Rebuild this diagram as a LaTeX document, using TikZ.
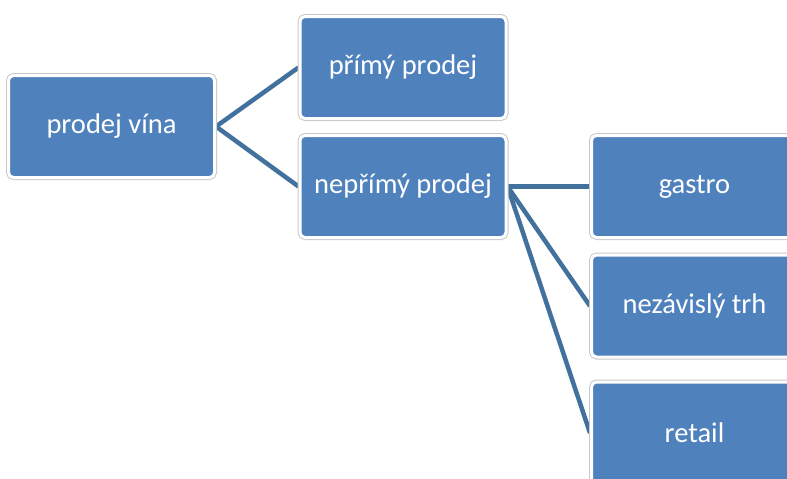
\documentclass[tikz,border=0pt]{standalone}
\usepackage{fontspec}
\setmainfont{Carlito}
\usetikzlibrary{backgrounds}
\definecolor{boxblue}{HTML}{4F81BD}
\definecolor{linkblue}{HTML}{41719C}
\definecolor{rimgray}{HTML}{C8C8C8}
\tikzset{
  card/.style={rectangle, rounded corners=5pt, fill=boxblue, draw=white,
    line width=3pt, minimum width=206pt, minimum height=102pt,
    inner sep=0pt, text=white, font=\fontsize{28.5}{34}\selectfont,
    preaction={draw=rimgray, line width=5pt}},
  link/.style={draw=linkblue, line width=4.5pt}
}
\begin{document}
\begin{tikzpicture}[x=1pt, y=-1pt]
  \useasboundingbox (0,0) rectangle (787,479);
  % tree boxes
  \node[card] (vino)    at (111.5,126.5) {prodej vína};
  \node[card] (primy)   at (403,67.5)    {přímý prodej};
  \node[card] (neprimy) at (403,186.5)   {nepřímý prodej};
  \node[card] (gastro)  at (694.5,186.5) {gastro};
  \node[card] (trh)     at (694.5,306)   {nezávislý trh};
  \node[card] (retail)  at (694.5,433)   {retail};
  % connectors behind the boxes
  \begin{scope}[on background layer]
    \draw[link] (vino.east) -- (primy.west);
    \draw[link] (vino.east) -- (neprimy.west);
    \draw[link] (neprimy.east) -- (gastro.west);
    \draw[link] (neprimy.east) -- (trh.west);
    \draw[link] (neprimy.east) -- (retail.west);
  \end{scope}
\end{tikzpicture}
\end{document}
